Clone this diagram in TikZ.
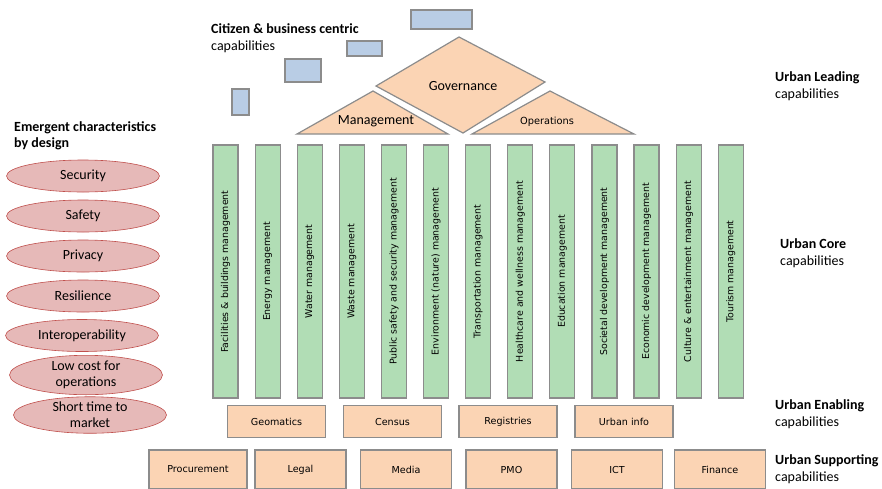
\documentclass[tikz,border=0pt]{standalone}
\usepackage{fontspec}
\setmainfont{Carlito}
\newfontfamily\verd{DejaVu Sans}
\usepackage{xcolor}
\usetikzlibrary{shapes,positioning,calc}

\definecolor{coregreen}{HTML}{B1DDB5}
\definecolor{peach}{HTML}{FBD4B4}
\definecolor{citblue}{HTML}{B9CDE5}
\definecolor{emerpink}{HTML}{E6B9B8}
\definecolor{emerred}{HTML}{C0504D}
\definecolor{edgegrey}{HTML}{8C8C8C}

\tikzset{
  corebar/.style={draw=edgegrey, fill=coregreen, line width=1.2pt, rotate=90,
    minimum width=253, minimum height=25, inner sep=0pt,
    font=\verd\fontsize{9.4}{11}\selectfont},
  capbox/.style={draw=edgegrey, fill=peach, line width=1.2pt, inner sep=0pt,
    font=\verd\fontsize{9.6}{11}\selectfont},
  citbox/.style={draw=edgegrey, fill=citblue, line width=1.2pt},
  emergent/.style={ellipse, draw=emerred, fill=emerpink, line width=0.6pt,
    minimum width=153, minimum height=32, inner sep=0pt, align=center,
    font=\fontsize{14}{16}\selectfont},
  layer/.style={anchor=west, align=left, inner sep=0pt,
    font=\fontsize{14}{17}\selectfont}
}

\begin{document}
\begin{tikzpicture}[x=1pt, y=-1pt]
    \useasboundingbox (0,0) rectangle (882,488);

    % Citizen & business centric
    \draw[citbox] (411,10) rectangle (472,29);
    \draw[citbox] (347,41) rectangle (382,56);
    \draw[citbox] (285,59) rectangle (321,82);
    \draw[citbox] (232,89) rectangle (249,115);
    \node[layer] (citizen) at (211,38.5) {\textbf{Citizen \& business centric}\\capabilities};

    % Governance, management, operations
    \filldraw[draw=edgegrey, fill=peach, line width=1.2pt]
        (376,86) -- (459,37) -- (545,82) -- (463,133) -- cycle;
    \filldraw[draw=edgegrey, fill=peach, line width=1.2pt]
        (297,134) -- (373,91) -- (448,134) -- cycle;
    \filldraw[draw=edgegrey, fill=peach, line width=1.2pt]
        (472,134) -- (550,91) -- (634,134) -- cycle;
    \node[font=\fontsize{14}{16}\selectfont] (gov) at (463,86) {Governance};
    \node[font=\fontsize{14}{16}\selectfont] (mgmt) at (376,121) {Management};
    \node[font=\verd\fontsize{9.8}{11}\selectfont] (ops) at (547,122) {Operations};

    % Core bars
    \foreach \t [count=\i from 0] in {Facilities \& buildings management,
        Energy management, Water management, Waste management,
        Public safety and security management, Environment (nature) management,
        Transportation management, Healthcare and wellness management,
        Education management, Societal development management,
        Economic development management, Culture \& entertainment management,
        Tourism management}
      \node[corebar] (core\i) at ({225.5+42.1*\i},271.5) {\t};

    % Enabling
    \node[capbox, minimum width=98, minimum height=32] (geo) at (276.5,421.7) {Geomatics};
    \node[capbox, minimum width=98, minimum height=32] (census) at (392.5,421.7) {Census};
    \node[capbox, minimum width=98, minimum height=32] (reg) at (508,421.7) {Registries};
    \node[capbox, minimum width=98, minimum height=32] (uinfo) at (624,421.7) {Urban info};

    % Supporting
    \node[capbox, minimum width=98, minimum height=39] (proc) at (198,469.5) {Procurement};
    \node[capbox, minimum width=91, minimum height=39] (legal) at (300.5,469.5) {Legal};
    \node[capbox, minimum width=91, minimum height=39] (media) at (406,469.5) {Media};
    \node[capbox, minimum width=91, minimum height=39] (pmo) at (511.5,469.5) {PMO};
    \node[capbox, minimum width=91, minimum height=39] (ict) at (617,469.5) {ICT};
    \node[capbox, minimum width=91, minimum height=39] (fin) at (720,469.5) {Finance};

    % Emergent characteristics
    \node[layer, font=\fontsize{14}{16}\selectfont] (emerg) at (14,136) {\textbf{Emergent characteristics}\\\textbf{by design}};
    \node[emergent] (sec) at (83,176) {Security};
    \node[emergent] (safe) at (83,216) {Safety};
    \node[emergent] (priv) at (83,256) {Privacy};
    \node[emergent] (resil) at (83,296) {Resilience};
    \node[emergent] (inter) at (82,335.5) {Interoperability};
    \node[emergent] (lowcost) at (86,375) {Low cost for\\operations};
    \node[emergent] (short) at (90,415) {Short time to\\market};

    % Layer labels
    \node[layer] (lead) at (775,86.5) {\textbf{Urban Leading}\\capabilities};
    \node[layer] (core) at (780,253.5) {\textbf{Urban Core}\\capabilities};
    \node[layer] (enab) at (775,414.5) {\textbf{Urban Enabling}\\capabilities};
    \node[layer] (supp) at (775,469.5) {\textbf{Urban Supporting}\\capabilities};
\end{tikzpicture}
\end{document}
